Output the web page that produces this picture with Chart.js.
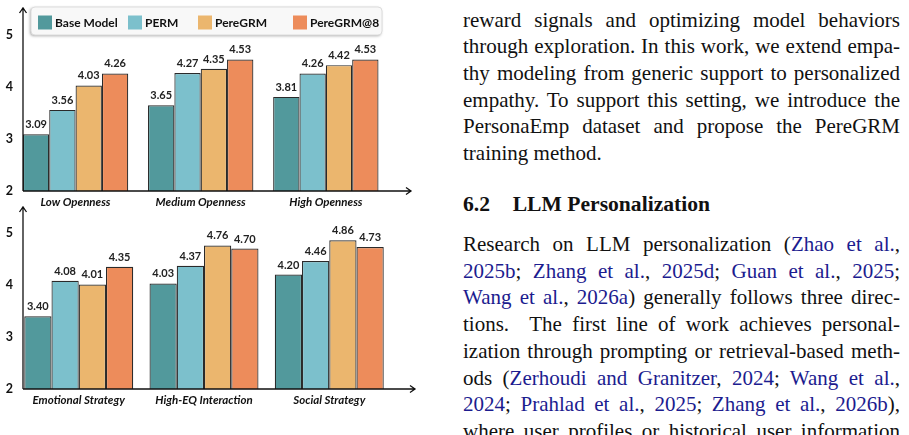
<!DOCTYPE html>
<html>
<head>
<meta charset="utf-8">
<script src="https://cdn.jsdelivr.net/npm/chart.js@4.4.0/dist/chart.umd.min.js"></script>
<style>
    html, body { margin: 0; padding: 0; width: 909px; height: 435px; overflow: hidden; background: #fff; }
    canvas { position: absolute; left: 0; }
    #topChart { top: 0; }
    #bottomChart { top: 204px; }
    .text { position: absolute; left: 463px; width: 437px; font-family: "Liberation Serif", "Times New Roman", serif;
            font-size: 21px; line-height: 26.7px; color: #111; }
    .text div { white-space: nowrap; text-align: justify; text-align-last: justify; }
    .text div.last { text-align-last: left; }
    .cite { color: #1c1c8f; }
    .heading { position: absolute; left: 463px; top: 191px; font-family: "Liberation Serif", "Times New Roman", serif;
               font-weight: bold; font-size: 21.6px; line-height: 26.7px; color: #111; white-space: nowrap; }
    .heading span { display: inline-block; width: 49.7px; }
</style>
</head>
<body>
<canvas id="topChart" width="420" height="210"></canvas>
<canvas id="bottomChart" width="420" height="231"></canvas>

<div class="text" style="top:6.6px">
    <div>reward signals and optimizing model behaviors</div>
    <div>through exploration. In this work, we extend empa-</div>
    <div>thy modeling from generic support to personalized</div>
    <div>empathy. To support this setting, we introduce the</div>
    <div>PersonaEmp dataset and propose the PereGRM</div>
    <div class="last">training method.</div>
</div>
<div class="heading"><span>6.2</span>LLM Personalization</div>
<div class="text" style="top:231px">
    <div>Research on LLM personalization (<span class="cite">Zhao et al.</span>,</div>
    <div><span class="cite">2025b</span>; <span class="cite">Zhang et al.</span>, <span class="cite">2025d</span>; <span class="cite">Guan et al.</span>, <span class="cite">2025</span>;</div>
    <div><span class="cite">Wang et al.</span>, <span class="cite">2026a</span>) generally follows three direc-</div>
    <div>tions.&nbsp; The first line of work achieves personal-</div>
    <div>ization through prompting or retrieval-based meth-</div>
    <div>ods (<span class="cite">Zerhoudi and Granitzer</span>, <span class="cite">2024</span>; <span class="cite">Wang et al.</span>,</div>
    <div><span class="cite">2024</span>; <span class="cite">Prahlad et al.</span>, <span class="cite">2025</span>; <span class="cite">Zhang et al.</span>, <span class="cite">2026b</span>),</div>
    <div>where user profiles or historical user information</div>
</div>

<script>
// Data
var seriesNames = ['Base Model', 'PERM', 'PereGRM', 'PereGRM@8'];

var topCategories = ['Low Openness', 'Medium Openness', 'High Openness'];
var topBase = [3.09, 3.65, 3.81];
var topPerm = [3.56, 4.27, 4.26];
var topPeregrm = [4.03, 4.35, 4.42];
var topPeregrm8 = [4.26, 4.53, 4.53];

var bottomCategories = ['Emotional Strategy', 'High-EQ Interaction', 'Social Strategy'];
var bottomBase = [3.40, 4.03, 4.20];
var bottomPerm = [4.08, 4.37, 4.46];
var bottomPeregrm = [4.01, 4.76, 4.86];
var bottomPeregrm8 = [4.35, 4.70, 4.73];

var yMin = 2;
var yMax = 5.5;
var yStep = 1;

var barColors = ['#52999c', '#7cc0cc', '#ebb66e', '#ed8c5b'];

// value labels above every bar
var valueLabels = {
    id: 'valueLabels',
    afterDatasetsDraw: function(chart) {
        var ctx = chart.ctx;
        ctx.save();
        ctx.font = 'bold 11px Lato';
        ctx.fillStyle = '#222';
        ctx.textAlign = 'center';
        ctx.textBaseline = 'alphabetic';
        chart.data.datasets.forEach(function(ds, i) {
            chart.getDatasetMeta(i).data.forEach(function(bar, j) {
                ctx.fillText(ds.data[j].toFixed(2), bar.x, bar.y - 6);
            });
        });
        ctx.restore();
    }
};

// axis lines with open arrow heads
var arrowAxes = {
    id: 'arrowAxes',
    afterDraw: function(chart, args, opts) {
        var ctx = chart.ctx;
        var a = chart.chartArea;
        var x0 = opts.axisX;
        var y0 = a.bottom;
        ctx.save();
        ctx.strokeStyle = '#111';
        ctx.lineWidth = 1.3;
        ctx.beginPath();
        ctx.moveTo(x0, y0);
        ctx.lineTo(x0, opts.topY);
        ctx.moveTo(x0 - 3.5, opts.topY + 5);
        ctx.lineTo(x0, opts.topY);
        ctx.lineTo(x0 + 3.5, opts.topY + 5);
        ctx.moveTo(x0, y0);
        ctx.lineTo(opts.rightX, y0);
        ctx.moveTo(opts.rightX - 5, y0 - 3.5);
        ctx.lineTo(opts.rightX, y0);
        ctx.lineTo(opts.rightX - 5, y0 + 3.5);
        ctx.stroke();
        ctx.restore();
    }
};

// boxed legend in the top panel
var boxLegend = {
    id: 'boxLegend',
    afterDraw: function(chart, args, opts) {
        if (!opts.show) return;
        var ctx = chart.ctx;
        ctx.save();
        ctx.shadowColor = 'rgba(0,0,0,0.35)';
        ctx.shadowBlur = 3;
        ctx.shadowOffsetX = -1;
        ctx.shadowOffsetY = 1;
        ctx.fillStyle = '#f8f8f8';
        ctx.beginPath();
        ctx.roundRect(31, 7, 351, 28, 4);
        ctx.fill();
        ctx.shadowColor = 'transparent';
        ctx.strokeStyle = '#dcdcdc';
        ctx.lineWidth = 1;
        ctx.stroke();

        ctx.font = 'bold 12px Lato';
        ctx.textBaseline = 'middle';
        ctx.textAlign = 'left';
        chart.data.datasets.forEach(function(ds, i) {
            var x = opts.itemX[i];
            ctx.fillStyle = ds.backgroundColor;
            ctx.fillRect(x, 15.5, 14, 14);
            ctx.fillStyle = '#111';
            ctx.fillText(ds.label, x + 17, 23);
        });
        ctx.restore();
    }
};

function noPadding(scale) {
    scale.paddingTop = 0;
    scale.paddingBottom = 0;
    scale.paddingLeft = 0;
    scale.paddingRight = 0;
}

function makeChart(id, categories, series, opt) {
    var ctx = document.getElementById(id).getContext('2d');
    return new Chart(ctx, {
        type: 'bar',
        data: {
            labels: categories,
            datasets: series.map(function(values, i) {
                return {
                    label: seriesNames[i],
                    data: values,
                    backgroundColor: barColors[i],
                    borderColor: '#2a2a2a',
                    borderWidth: 1.2,
                    barPercentage: 1.0,
                    categoryPercentage: opt.groupPct
                };
            })
        },
        options: {
            responsive: false,
            animation: false,
            layout: { padding: { top: opt.padTop, right: opt.padRight, left: 0, bottom: 0 } },
            plugins: {
                legend: { display: false },
                tooltip: { enabled: false },
                arrowAxes: { axisX: 23, topY: opt.arrowTop, rightX: opt.arrowRight },
                boxLegend: { show: opt.legend, itemX: [38, 128, 198, 293] }
            },
            scales: {
                x: {
                    grid: { display: false, drawTicks: false },
                    border: { display: false },
                    ticks: {
                        padding: 4,
                        color: '#111',
                        maxRotation: 0,
                        autoSkip: false,
                        font: { family: 'Lato', style: 'italic', weight: 'bold', size: 11.5 }
                    },
                    afterFit: function(scale) { scale.height = opt.xHeight; noPadding(scale); }
                },
                y: {
                    min: yMin,
                    max: yMax,
                    grid: { display: false, drawTicks: false },
                    border: { display: false },
                    ticks: {
                        stepSize: yStep,
                        includeBounds: false,
                        padding: opt.tickPad,
                        color: '#111',
                        font: { family: 'Lato', weight: 'bold', size: 12.5 }
                    },
                    afterFit: function(scale) { scale.width = opt.yWidth; noPadding(scale); }
                }
            }
        },
        plugins: [valueLabels, arrowAxes, boxLegend]
    });
}

makeChart('topChart', topCategories, [topBase, topPerm, topPeregrm, topPeregrm8], {
    groupPct: 0.842, padTop: 9, padRight: 31.6, xHeight: 19, yWidth: 13, tickPad: 0,
    arrowTop: 8, arrowRight: 411, legend: true
});

makeChart('bottomChart', bottomCategories, [bottomBase, bottomPerm, bottomPeregrm, bottomPeregrm8], {
    groupPct: 0.87, padTop: 3, padRight: 28.1, xHeight: 46, yWidth: 16.1, tickPad: 3,
    arrowTop: 3, arrowRight: 415, legend: false
});
</script>
</body>
</html>
